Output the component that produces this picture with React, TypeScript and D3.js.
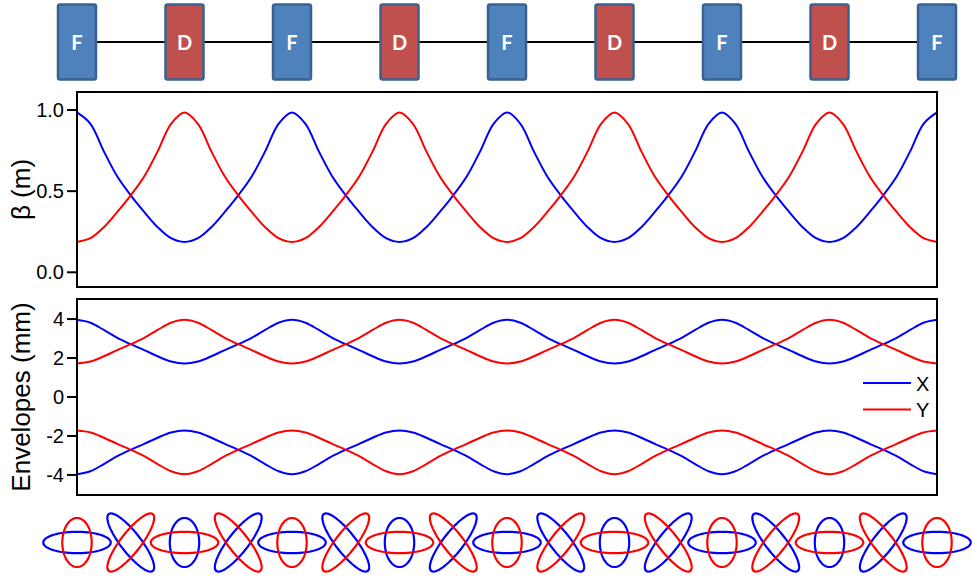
import React from "react";
import * as d3 from "d3";

// Lattice: focusing (F) and defocusing (D) quadrupoles, one per half-cell
const magnets = ["F", "D", "F", "D", "F", "D", "F", "D", "F"];

// Beta functions (m), 8 samples per half-cell over 4 FODO cells
const betaX = [
  0.985, 0.915, 0.745, 0.59, 0.474, 0.372, 0.278, 0.21,
  0.187, 0.21, 0.278, 0.372, 0.474, 0.59, 0.745, 0.915,
  0.985, 0.915, 0.745, 0.59, 0.474, 0.372, 0.278, 0.21,
  0.187, 0.21, 0.278, 0.372, 0.474, 0.59, 0.745, 0.915,
  0.985, 0.915, 0.745, 0.59, 0.474, 0.372, 0.278, 0.21,
  0.187, 0.21, 0.278, 0.372, 0.474, 0.59, 0.745, 0.915,
  0.985, 0.915, 0.745, 0.59, 0.474, 0.372, 0.278, 0.21,
  0.187, 0.21, 0.278, 0.372, 0.474, 0.59, 0.745, 0.915,
  0.985,
];
const betaY = [
  0.187, 0.21, 0.278, 0.372, 0.474, 0.59, 0.745, 0.915,
  0.985, 0.915, 0.745, 0.59, 0.474, 0.372, 0.278, 0.21,
  0.187, 0.21, 0.278, 0.372, 0.474, 0.59, 0.745, 0.915,
  0.985, 0.915, 0.745, 0.59, 0.474, 0.372, 0.278, 0.21,
  0.187, 0.21, 0.278, 0.372, 0.474, 0.59, 0.745, 0.915,
  0.985, 0.915, 0.745, 0.59, 0.474, 0.372, 0.278, 0.21,
  0.187, 0.21, 0.278, 0.372, 0.474, 0.59, 0.745, 0.915,
  0.985, 0.915, 0.745, 0.59, 0.474, 0.372, 0.278, 0.21,
  0.187,
];

// Beam envelopes (mm), same sampling; drawn as +/- envelope
const envX = [
  3.96, 3.81, 3.44, 3.04, 2.71, 2.41, 2.09, 1.82,
  1.72, 1.82, 2.09, 2.41, 2.71, 3.04, 3.44, 3.81,
  3.96, 3.81, 3.44, 3.04, 2.71, 2.41, 2.09, 1.82,
  1.72, 1.82, 2.09, 2.41, 2.71, 3.04, 3.44, 3.81,
  3.96, 3.81, 3.44, 3.04, 2.71, 2.41, 2.09, 1.82,
  1.72, 1.82, 2.09, 2.41, 2.71, 3.04, 3.44, 3.81,
  3.96, 3.81, 3.44, 3.04, 2.71, 2.41, 2.09, 1.82,
  1.72, 1.82, 2.09, 2.41, 2.71, 3.04, 3.44, 3.81,
  3.96,
];
const envY = [
  1.72, 1.82, 2.09, 2.41, 2.71, 3.04, 3.44, 3.81,
  3.96, 3.81, 3.44, 3.04, 2.71, 2.41, 2.09, 1.82,
  1.72, 1.82, 2.09, 2.41, 2.71, 3.04, 3.44, 3.81,
  3.96, 3.81, 3.44, 3.04, 2.71, 2.41, 2.09, 1.82,
  1.72, 1.82, 2.09, 2.41, 2.71, 3.04, 3.44, 3.81,
  3.96, 3.81, 3.44, 3.04, 2.71, 2.41, 2.09, 1.82,
  1.72, 1.82, 2.09, 2.41, 2.71, 3.04, 3.44, 3.81,
  3.96, 3.81, 3.44, 3.04, 2.71, 2.41, 2.09, 1.82,
  1.72,
];

// Twiss parameters at the phase-space snapshots (every quarter cell)
const snapBetaX = [0.985, 0.474, 0.187, 0.474, 0.985, 0.474, 0.187, 0.474, 0.985, 0.474, 0.187, 0.474, 0.985, 0.474, 0.187, 0.474, 0.985];
const snapAlphaX = [0, 1.6, 0, -1.6, 0, 1.6, 0, -1.6, 0, 1.6, 0, -1.6, 0, 1.6, 0, -1.6, 0];
const snapBetaY = [0.187, 0.474, 0.985, 0.474, 0.187, 0.474, 0.985, 0.474, 0.187, 0.474, 0.985, 0.474, 0.187, 0.474, 0.985, 0.474, 0.187];
const snapAlphaY = [0, -1.6, 0, 1.6, 0, -1.6, 0, 1.6, 0, -1.6, 0, 1.6, 0, -1.6, 0, 1.6, 0];

const betaTicks = [0.0, 0.5, 1.0];
const envTicks = [-4, -2, 0, 2, 4];

const W = 972;
const H = 579;
const BLUE = "#0000ff";
const RED = "#ff0000";
const FONT = "'Liberation Sans', Arial, sans-serif";

const SAMPLES_PER_HALF_CELL = 8;

export default function App() {
  const left = 77;
  const right = 937;
  const x = d3.scaleLinear().domain([0, magnets.length - 1]).range([left, right]);
  const sAt = (i: number) => i / SAMPLES_PER_HALF_CELL;

  const betaTop = 92;
  const betaBottom = 287;
  const yBeta = d3.scaleLinear().domain([-0.0906, 1.111]).range([betaBottom, betaTop]);

  const envTop = 299;
  const envBottom = 495;
  const yEnv = d3.scaleLinear().domain([-5.03, 5.03]).range([envBottom, envTop]);

  const lineOf = (vals: number[], y: d3.ScaleLinear<number, number>, sign = 1) =>
    d3
      .line<number>()
      .x((_, i) => x(sAt(i)))
      .y((v) => y(sign * v))
      .curve(d3.curveCatmullRom.alpha(0.5))(vals) as string;

  // phase-space ellipse scales (px per sqrt-unit)
  const ellX = d3.scaleLinear().domain([0, 1]).range([0, 34]);
  const ellY = d3.scaleLinear().domain([0, 1]).range([0, -10.6]);
  const ellCy = 542.5;
  const tGrid = d3.range(0, 2 * Math.PI, Math.PI / 60);
  const ellipsePath = (cx: number, beta: number, alpha: number) =>
    d3
      .line<number>()
      .x((t) => cx + ellX(Math.sqrt(beta) * Math.cos(t)))
      .y((t) => ellCy + ellY(-(alpha * Math.cos(t) + Math.sin(t)) / Math.sqrt(beta)))
      .curve(d3.curveLinearClosed)(tGrid) as string;

  const latticeY = 42;
  const boxW = 38;
  const boxH = 75;

  return (
    <svg
      width={W}
      height={H}
      viewBox={`0 0 ${W} ${H}`}
      style={{ position: "absolute", left: 0, top: 0, background: "#fff" }}
    >
      {/* lattice */}
      <line x1={x(0)} x2={x(magnets.length - 1)} y1={latticeY} y2={latticeY} stroke="#000" strokeWidth={2} />
      {magnets.map((m, i) => (
        <g key={"mag" + i}>
          <rect
            x={x(i) - boxW / 2}
            y={latticeY - boxH / 2}
            width={boxW}
            height={boxH}
            rx={2}
            fill={m === "F" ? "#4f81bd" : "#c0504d"}
            stroke="#3a6290"
            strokeWidth={2.5}
          />
          <text
            x={x(i)}
            y={latticeY + 7.5}
            textAnchor="middle"
            fill="#fff"
            fontFamily="Lato, 'Open Sans', sans-serif"
            fontWeight="bold"
            fontSize={20}
          >
            {m}
          </text>
        </g>
      ))}

      {/* beta functions */}
      <path d={lineOf(betaX, yBeta)} fill="none" stroke={BLUE} strokeWidth={2} />
      <path d={lineOf(betaY, yBeta)} fill="none" stroke={RED} strokeWidth={2} />
      <rect x={left} y={betaTop} width={right - left} height={betaBottom - betaTop} fill="none" stroke="#000" strokeWidth={2} />
      {betaTicks.map((t) => (
        <g key={"bt" + t}>
          <line x1={left - 10} x2={left} y1={yBeta(t)} y2={yBeta(t)} stroke="#000" strokeWidth={2} />
          <text x={left - 13} y={yBeta(t) + 7} textAnchor="end" fontFamily={FONT} fontSize={20} fill="#000">
            {d3.format(".1f")(t)}
          </text>
        </g>
      ))}
      <text
        transform={`translate(30, ${(betaTop + betaBottom) / 2}) rotate(-90)`}
        textAnchor="middle"
        fontFamily={FONT}
        fontSize={26}
        fill="#000"
      >
        β (m)
      </text>

      {/* envelopes */}
      <path d={lineOf(envX, yEnv)} fill="none" stroke={BLUE} strokeWidth={2} />
      <path d={lineOf(envX, yEnv, -1)} fill="none" stroke={BLUE} strokeWidth={2} />
      <path d={lineOf(envY, yEnv)} fill="none" stroke={RED} strokeWidth={2} />
      <path d={lineOf(envY, yEnv, -1)} fill="none" stroke={RED} strokeWidth={2} />
      <rect x={left} y={envTop} width={right - left} height={envBottom - envTop} fill="none" stroke="#000" strokeWidth={2} />
      {envTicks.map((t) => (
        <g key={"et" + t}>
          <line x1={left - 10} x2={left} y1={yEnv(t)} y2={yEnv(t)} stroke="#000" strokeWidth={2} />
          <text x={left - 13} y={yEnv(t) + 7} textAnchor="end" fontFamily={FONT} fontSize={20} fill="#000">
            {t}
          </text>
        </g>
      ))}
      <text
        transform={`translate(30, ${(envTop + envBottom) / 2}) rotate(-90)`}
        textAnchor="middle"
        fontFamily={FONT}
        fontSize={26}
        fill="#000"
      >
        Envelopes (mm)
      </text>

      {/* legend */}
      {[
        { label: "X", color: BLUE, y: 383 },
        { label: "Y", color: RED, y: 409.5 },
      ].map((l) => (
        <g key={"lg" + l.label}>
          <line x1={863} x2={911} y1={l.y} y2={l.y} stroke={l.color} strokeWidth={2} />
          <text x={916} y={l.y + 7.5} fontFamily={FONT} fontSize={20} fill="#000">
            {l.label}
          </text>
        </g>
      ))}

      {/* phase-space ellipses */}
      {snapBetaX.map((b, i) => (
        <path key={"ex" + i} d={ellipsePath(x(i / 2), b, snapAlphaX[i])} fill="none" stroke={BLUE} strokeWidth={2.2} />
      ))}
      {snapBetaY.map((b, i) => (
        <path key={"ey" + i} d={ellipsePath(x(i / 2), b, snapAlphaY[i])} fill="none" stroke={RED} strokeWidth={2.2} />
      ))}
    </svg>
  );
}
